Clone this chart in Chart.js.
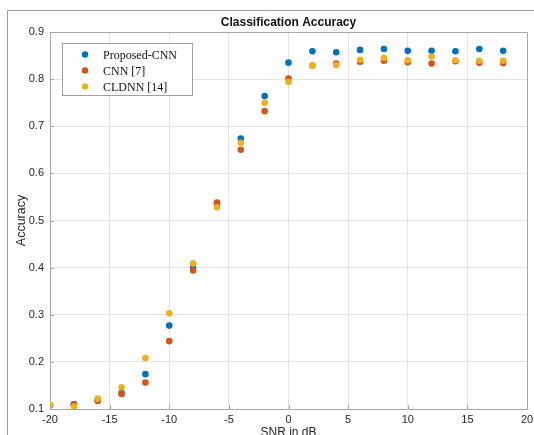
<!DOCTYPE html>
<html>
<head>
<meta charset="utf-8">
<script src="https://cdn.jsdelivr.net/npm/chart.js@4/dist/chart.umd.min.js"></script>
<style>
html,body{margin:0;padding:0;background:#fff;}
#wrap{width:534px;height:435px;position:relative;}
</style>
</head>
<body>
<div id="wrap"><canvas id="c" width="534" height="435"></canvas></div>
<script>
// ---- data ----
const snr = [-20,-18,-16,-14,-12,-10,-8,-6,-4,-2,0,2,4,6,8,10,12,14,16,18];
const proposedCNN = [0.108,0.110,0.119,0.134,0.174,0.277,0.399,0.535,0.674,0.764,0.835,0.859,0.857,0.862,0.864,0.860,0.860,0.859,0.864,0.860];
const cnn7 = [0.108,0.110,0.117,0.132,0.156,0.244,0.394,0.538,0.650,0.732,0.801,0.829,0.833,0.837,0.839,0.836,0.833,0.838,0.835,0.834];
const cldnn14 = [0.1085,0.105,0.122,0.146,0.208,0.303,0.409,0.528,0.665,0.750,0.794,0.828,0.830,0.841,0.845,0.840,0.848,0.840,0.839,0.839];
const seriesNames = ['Proposed-CNN','CNN [7]','CLDNN [14]'];
const xTicks = [-20,-15,-10,-5,0,5,10,15,20];
const yTicks = [0.1,0.2,0.3,0.4,0.5,0.6,0.7,0.8,0.9];
const titleText = 'Classification Accuracy';
const xLabel = 'SNR in dB';
const yLabel = 'Accuracy';

const colors = ['#0072BD','#D95319','#EDB120'];
const toPts = arr => snr.map((x,i)=>({x:x,y:arr[i]}));

const GRID = '#e3e3e3';
const AXIS = '#a8a8a8';

const deco = {
  id:'deco',
  beforeDraw(chart){
    const ctx = chart.ctx;
    ctx.save();
    ctx.fillStyle = '#fff';
    ctx.fillRect(0,0,chart.width,chart.height);
    // figure frame
    ctx.strokeStyle = '#9a9a9a';
    ctx.lineWidth = 1;
    ctx.beginPath();
    ctx.moveTo(7.5,chart.height);
    ctx.lineTo(7.5,10.5);
    ctx.lineTo(chart.width,10.5);
    ctx.stroke();
    ctx.restore();
  },
  afterDraw(chart){
    const ctx = chart.ctx;
    const a = chart.chartArea;
    const xs = chart.scales.x, ys = chart.scales.y;
    ctx.save();
    // box top/right
    ctx.strokeStyle = AXIS;
    ctx.lineWidth = 1;
    ctx.beginPath();
    ctx.moveTo(Math.round(a.left)+0.5, Math.round(a.top)+0.5);
    ctx.lineTo(Math.round(a.right)+0.5, Math.round(a.top)+0.5);
    ctx.lineTo(Math.round(a.right)+0.5, Math.round(a.bottom)+0.5);
    ctx.stroke();
    // inward ticks
    ctx.beginPath();
    yTicks.forEach(v=>{
      const py = Math.round(ys.getPixelForValue(v))+0.5;
      ctx.moveTo(a.left, py); ctx.lineTo(a.left+4, py);
    });
    xTicks.forEach(v=>{
      const px = Math.round(xs.getPixelForValue(v))+0.5;
      ctx.moveTo(px, a.bottom); ctx.lineTo(px, a.bottom-4);
    });
    ctx.stroke();
    // title
    ctx.fillStyle = '#111';
    ctx.font = 'bold 12px "Liberation Sans", Arial, sans-serif';
    ctx.textAlign = 'center';
    ctx.textBaseline = 'middle';
    ctx.fillText(titleText, (a.left+a.right)/2, 23);
    // axis labels
    ctx.fillStyle = '#262626';
    ctx.font = '12px "Liberation Sans", Arial, sans-serif';
    ctx.fillText(xLabel, (a.left+a.right)/2, 433);
    ctx.save();
    ctx.translate(22, (a.top+a.bottom)/2);
    ctx.rotate(-Math.PI/2);
    ctx.font = '12.5px "Liberation Sans", Arial, sans-serif';
    ctx.fillText(yLabel, 0, 0);
    ctx.restore();
    // legend
    const lx = 62, ly = 43, lw = 130, lh = 52;
    ctx.fillStyle = '#fff';
    ctx.fillRect(lx, ly, lw, lh);
    ctx.strokeStyle = '#a0a0a0';
    ctx.strokeRect(lx+0.5, ly+0.5, lw, lh);
    const rows = [54.5, 70.5, 86.5];
    ctx.font = '12px "Liberation Serif", "Times New Roman", serif';
    ctx.textAlign = 'left';
    ctx.textBaseline = 'middle';
    chart.data.datasets.forEach((ds,i)=>{
      ctx.fillStyle = ds.backgroundColor;
      ctx.beginPath();
      ctx.arc(85, rows[i], 3.2, 0, Math.PI*2);
      ctx.fill();
      ctx.fillStyle = '#111';
      ctx.fillText(ds.label, 103, rows[i]+1);
    });
    ctx.restore();
  }
};

new Chart(document.getElementById('c'), {
  type:'scatter',
  data:{
    datasets:[
      {label:seriesNames[0], data:toPts(proposedCNN), backgroundColor:colors[0], borderWidth:0, pointRadius:3.3, order:2},
      {label:seriesNames[1], data:toPts(cnn7), backgroundColor:colors[1], borderWidth:0, pointRadius:3.3, order:1},
      {label:seriesNames[2], data:toPts(cldnn14), backgroundColor:colors[2], borderWidth:0, pointRadius:3.3, order:0}
    ]
  },
  options:{
    responsive:false,
    animation:false,
    devicePixelRatio:1,
    layout:{padding:{left:0,top:32,right:7,bottom:0}},
    plugins:{legend:{display:false}, title:{display:false}, tooltip:{enabled:false}},
    scales:{
      x:{
        type:'linear', min:-20, max:20,
        afterBuildTicks(s){ s.ticks = xTicks.map(v=>({value:v})); },
        afterFit(s){ s.height = 26; s.paddingLeft = 0; s.paddingRight = 0; },
        grid:{color:GRID, drawTicks:false, lineWidth:1},
        border:{display:true, color:AXIS},
        ticks:{padding:4, color:'#262626', font:{family:'"Liberation Sans", Arial, sans-serif', size:11},
               callback:v=>String(v), maxRotation:0, autoSkip:false}
      },
      y:{
        type:'linear', min:0.1, max:0.9,
        afterBuildTicks(s){ s.ticks = yTicks.map(v=>({value:v})); },
        afterFit(s){ s.width = 50; s.paddingTop = 0; s.paddingBottom = 0; },
        grid:{color:GRID, drawTicks:false, lineWidth:1},
        border:{display:true, color:AXIS},
        ticks:{padding:6, color:'#262626', font:{family:'"Liberation Sans", Arial, sans-serif', size:11},
               callback:v=>Number(v).toFixed(1), autoSkip:false}
      }
    }
  },
  plugins:[deco]
});
</script>
</body>
</html>
